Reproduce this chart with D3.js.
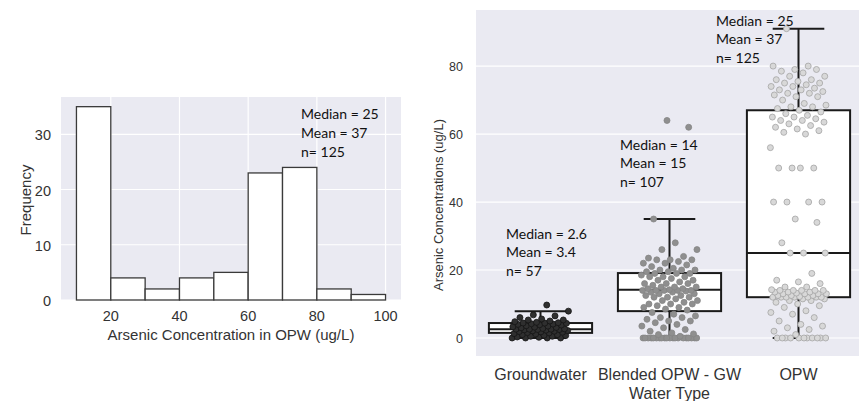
<!DOCTYPE html>
<html>
<head>
<meta charset="utf-8">
<script src="https://cdn.jsdelivr.net/npm/d3@7"></script>
<style>
  body { margin: 0; background: #fff; }
  svg { display: block; }
  .tick-label { font-family: "Liberation Sans", Arial, sans-serif; fill: #333; }
  .note { font-family: Lato, "Liberation Sans", sans-serif; fill: #111; font-size: 14px; }
</style>
</head>
<body>
<script>
// histogram (left)
const binEdges = [10, 20, 30, 40, 50, 60, 70, 80, 90, 100]
const binCounts = [35, 4, 2, 4, 5, 23, 24, 2, 1]
const histTicksX = [20, 40, 60, 80, 100]
const histTicksY = [0, 10, 20, 30]
const histNote = ["Median = 25", "Mean = 37", "n= 125"]

// box + strip plot (right)
const groups = ["Groundwater", "Blended OPW - GW", "OPW"]
const q1 = [1.5, 7.9, 12]
const median = [2.6, 14.2, 25]
const q3 = [4.4, 19.1, 67]
const whiskLo = [0, 0, 0]
const whiskHi = [7.9, 35, 91]
const boxTicksY = [0, 20, 40, 60, 80]
const notes = [
  ["Median = 2.6", "Mean = 3.4", "n= 57"],
  ["Median = 14", "Mean = 15", "n= 107"],
  ["Median = 25", "Mean = 37", "n= 125"]
]

const gwPoints = [0,0,0,0,0.2,0.3,0.5,0.5,0.7,0.8,1.0,1.0,1.2,1.3,1.5,
  1.6,1.7,1.8,1.9,2.0,2.1,2.2,2.3,2.4,2.5,2.5,2.6,2.6,2.6,
  2.7,2.8,3.0,3.1,3.2,3.3,3.5,3.6,3.8,3.9,4.0,4.1,4.2,4.3,4.4,
  4.4,4.5,4.6,4.8,5.0,5.3,5.3,5.6,6.0,6.5,6.8,7.9,9.7]

const blendPoints = [0,0,0,0,0,0,0,0,0,0,0,0,0,0,0,0,0,0,0,0,
  0.5,1,1.2,1.5,2,2.5,3,3.5,4,4.5,5,5,5.5,6,6,6.5,7,7.5,
  8.2,8.5,9,9,9.5,10,10,10,10.5,11,11,11.5,12,12,12,12.5,12.5,13,13,13.5,13.5,13.8,14,14,14,14,14,14.2,14.5,
  14.5,15,15,15,15.5,16,16,16,16.5,17,17,17.5,18,18,18,18.5,19,19,19,19.5,19.5,20,20,20,20.5,21,21.5,
  22,22,22.5,23,23,23,23.5,24,26,26,28,35,62,64]

const opwPoints = [0,0,0,0,0,0,0,0,0,0,0,1,2,2.5,3,3.5,4,5,6,7,7.5,8,9,9.5,10,10.5,11,11,11.5,11.5,12,
  12,12,12,12,12,12,12.2,12.5,12.5,12.5,13,13,13,13,13.2,13.5,13.5,13.5,14,14,14,14,14,14.2,15,15,16,16.5,17,19,25,
  25,25,28,34,35,40,40,40,40,50,50,50,50,56,60,60.5,61,61.5,62,62.5,63,63.5,64,64,64.5,65,65,65.5,66,66.5,67,
  67.5,68,68,68.5,69,70,71,71,71.5,72,72,72.5,73,73,73.5,74,74,74.5,75,75,75.5,76,76,77,77,78,78.5,79,79,80,80,91]

const pointSets = [gwPoints, blendPoints, opwPoints]
const pointFill = ["#2f2f2f", "#8f8f8f", "#d8d8d8"]
const pointStroke = ["#151515", "#858585", "#a5a5a5"]

const width = 859
const height = 401
const bg = "#eaeaf2"

const svg = d3.select("body").append("svg")
  .attr("width", width)
  .attr("height", height)

// ---------- left: histogram ----------
const hx = d3.scaleLinear().domain([5.5, 104.5]).range([61, 401])
const hy = d3.scaleLinear().domain([0, 36.75]).range([300, 97])

const left = svg.append("g")
left.append("rect")
  .attr("x", hx.range()[0]).attr("y", hy.range()[1])
  .attr("width", hx.range()[1] - hx.range()[0])
  .attr("height", hy.range()[0] - hy.range()[1])
  .attr("fill", bg)

left.selectAll(".gx").data(histTicksX).join("line")
  .attr("x1", d => hx(d)).attr("x2", d => hx(d))
  .attr("y1", hy.range()[0]).attr("y2", hy.range()[1])
  .attr("stroke", "#fff").attr("stroke-width", 1.2)
left.selectAll(".gy").data(histTicksY).join("line")
  .attr("x1", hx.range()[0]).attr("x2", hx.range()[1])
  .attr("y1", d => hy(d)).attr("y2", d => hy(d))
  .attr("stroke", "#fff").attr("stroke-width", 1.2)

left.selectAll(".bar").data(binCounts).join("rect")
  .attr("x", (d, i) => hx(binEdges[i]))
  .attr("y", d => hy(d))
  .attr("width", (d, i) => hx(binEdges[i + 1]) - hx(binEdges[i]))
  .attr("height", d => hy(0) - hy(d))
  .attr("fill", "#fff")
  .attr("stroke", "#3a3a3a")
  .attr("stroke-width", 1.3)

left.selectAll(".tx").data(histTicksX).join("text")
  .attr("class", "tick-label")
  .attr("x", d => hx(d)).attr("y", 316)
  .attr("text-anchor", "middle").attr("dominant-baseline", "central")
  .style("font-size", "14.5px")
  .text(d => d)
left.selectAll(".ty").data(histTicksY).join("text")
  .attr("class", "tick-label")
  .attr("x", 51).attr("y", d => hy(d) + 1)
  .attr("text-anchor", "end").attr("dominant-baseline", "central")
  .style("font-size", "14.5px")
  .text(d => d)

left.append("text")
  .attr("class", "tick-label")
  .attr("x", 231).attr("y", 334)
  .attr("text-anchor", "middle").attr("dominant-baseline", "central")
  .style("font-size", "15px")
  .text("Arsenic Concentration in OPW (ug/L)")
left.append("text")
  .attr("class", "tick-label")
  .attr("transform", "translate(25,200) rotate(-90)")
  .attr("text-anchor", "middle").attr("dominant-baseline", "central")
  .style("font-size", "15px")
  .text("Frequency")

left.selectAll(".hn").data(histNote).join("text")
  .attr("class", "note")
  .attr("x", 301).attr("y", (d, i) => 113 + i * 19)
  .attr("dominant-baseline", "central")
  .text(d => d)

// ---------- right: box + strip ----------
const bx = d3.scaleBand().domain(groups).range([476, 863])
const by = d3.scaleLinear().domain([-5.3, 96.5]).range([356, 10])
const bw = bx.bandwidth() * 0.8
const cx = g => bx(g) + bx.bandwidth() / 2

const right = svg.append("g")
right.append("rect")
  .attr("x", 476).attr("y", by.range()[1])
  .attr("width", 863 - 476)
  .attr("height", by.range()[0] - by.range()[1])
  .attr("fill", bg)

right.selectAll(".gy").data(boxTicksY).join("line")
  .attr("x1", 476).attr("x2", 863)
  .attr("y1", d => by(d)).attr("y2", d => by(d))
  .attr("stroke", "#fff").attr("stroke-width", 1.2)

const box = right.selectAll(".box").data(groups).join("g")
  .attr("stroke", "#1a1a1a").attr("stroke-width", 2)

box.append("line")
  .attr("x1", d => cx(d)).attr("x2", d => cx(d))
  .attr("y1", (d, i) => by(q3[i])).attr("y2", (d, i) => by(whiskHi[i]))
box.append("line")
  .attr("x1", d => cx(d)).attr("x2", d => cx(d))
  .attr("y1", (d, i) => by(q1[i])).attr("y2", (d, i) => by(whiskLo[i]))
box.append("line")
  .attr("x1", d => cx(d) - bw / 4).attr("x2", d => cx(d) + bw / 4)
  .attr("y1", (d, i) => by(whiskHi[i])).attr("y2", (d, i) => by(whiskHi[i]))
box.append("line")
  .attr("x1", d => cx(d) - bw / 4).attr("x2", d => cx(d) + bw / 4)
  .attr("y1", (d, i) => by(whiskLo[i])).attr("y2", (d, i) => by(whiskLo[i]))
box.append("rect")
  .attr("x", d => cx(d) - bw / 2).attr("width", bw)
  .attr("y", (d, i) => by(q3[i]))
  .attr("height", (d, i) => by(q1[i]) - by(q3[i]))
  .attr("fill", "#fff")
box.append("line")
  .attr("x1", d => cx(d) - bw / 2).attr("x2", d => cx(d) + bw / 2)
  .attr("y1", (d, i) => by(median[i])).attr("y2", (d, i) => by(median[i]))

// strip points, spread with a fixed golden-ratio jitter
const jitter = (i, k) => ((((i + k * 7) * 0.6180339887) % 1) - 0.5) * 2 * 0.22 * bx.bandwidth()
groups.forEach((g, k) => {
  right.append("g").selectAll("circle").data(pointSets[k]).join("circle")
    .attr("cx", (d, i) => cx(g) + jitter(i, k))
    .attr("cy", d => by(d))
    .attr("r", 3)
    .attr("fill", pointFill[k])
    .attr("stroke", pointStroke[k])
    .attr("stroke-width", 0.8)
})

right.selectAll(".ty").data(boxTicksY).join("text")
  .attr("class", "tick-label")
  .attr("x", 463).attr("y", d => by(d) + 1)
  .attr("text-anchor", "end").attr("dominant-baseline", "central")
  .style("font-size", "12.5px")
  .text(d => d)

right.selectAll(".tx").data(groups).join("text")
  .attr("class", "tick-label")
  .attr("x", d => cx(d)).attr("y", 374)
  .attr("text-anchor", "middle").attr("dominant-baseline", "central")
  .style("font-size", "16px")
  .text(d => d)
right.append("text")
  .attr("class", "tick-label")
  .attr("x", cx(groups[1])).attr("y", 393)
  .attr("text-anchor", "middle").attr("dominant-baseline", "central")
  .style("font-size", "16px")
  .text("Water Type")
right.append("text")
  .attr("class", "tick-label")
  .attr("transform", "translate(438,205) rotate(-90)")
  .attr("text-anchor", "middle").attr("dominant-baseline", "central")
  .style("font-size", "13px")
  .text("Arsenic Concentrations (ug/L)")

const noteX = [506, 620, 716]
const noteY = [233, 144, 20]
notes.forEach((lines, k) => {
  right.append("g").selectAll("text").data(lines).join("text")
    .attr("class", "note")
    .attr("x", noteX[k]).attr("y", (d, i) => noteY[k] + i * 18.5)
    .attr("dominant-baseline", "central")
    .text(d => d)
})
</script>
</body>
</html>
